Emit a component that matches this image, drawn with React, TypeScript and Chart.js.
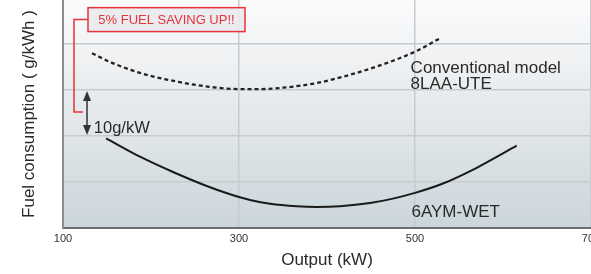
import React, { useEffect, useRef } from 'react';
import { Chart, registerables } from 'chart.js';

Chart.register(...registerables);

// Conventional model 8LAA-UTE (dashed)
const convOutput = [133, 157, 195, 233, 270, 301, 324, 350, 388, 426, 464, 502, 530];
const convFuel = [228.0, 225.8, 223.3, 221.7, 220.6, 220.2, 220.2, 220.5, 221.5, 223.3, 225.6, 228.5, 231.4];

// 6AYM-WET (solid)
const wetOutput = [149, 187.5, 225, 263.3, 289.8, 312.5, 335.2, 365.6, 388.3, 414.8, 448.9, 475, 500, 531.8, 570.1, 615.6];
const wetFuel = [209.5, 205.5, 202.17, 199.13, 197.33, 196.09, 195.26, 194.72, 194.59, 194.74, 195.43, 196.39, 197.63, 199.67, 203.09, 207.89];

const xTicks = [100, 300, 500, 700];
const yGridValues = [200, 210, 220, 230];

const FONT = '"Liberation Sans", Arial, Helvetica, sans-serif';
const RED = '#e8333b';
const TEXT = '#2a2a2a';

const backgroundPlugin = {
  id: 'bgGradient',
  beforeDraw(chart: any) {
    const { ctx, chartArea } = chart;
    if (!chartArea) return;
    const g = ctx.createLinearGradient(0, chartArea.top, 0, chartArea.bottom);
    g.addColorStop(0, '#fbfbfc');
    g.addColorStop(0.4, '#e9ecee');
    g.addColorStop(1, '#cbd6db');
    ctx.save();
    ctx.fillStyle = g;
    ctx.fillRect(chartArea.left, chartArea.top, chartArea.right - chartArea.left, chartArea.bottom - chartArea.top);
    ctx.restore();
  },
};

const annotationPlugin = {
  id: 'annotations',
  afterDatasetsDraw(chart: any) {
    const { ctx } = chart;
    const xs = chart.scales.x;
    const ys = chart.scales.y;
    const px = (v: number) => xs.getPixelForValue(v);
    const py = (v: number) => ys.getPixelForValue(v);
    ctx.save();

    // Red box
    const bx1 = px(128.4), bx2 = px(306.8), by1 = py(237.9), by2 = py(232.7);
    ctx.fillStyle = 'rgba(232,234,237,0.9)';
    ctx.fillRect(bx1, by1, bx2 - bx1, by2 - by1);
    ctx.strokeStyle = RED;
    ctx.lineWidth = 1.5;
    ctx.strokeRect(bx1, by1, bx2 - bx1, by2 - by1);
    ctx.fillStyle = RED;
    ctx.font = `13px ${FONT}`;
    ctx.textAlign = 'center';
    ctx.textBaseline = 'middle';
    ctx.fillText('5% FUEL SAVING UP!!', (bx1 + bx2) / 2, (by1 + by2) / 2 + 0.5);

    // Red connector
    const cy = (by1 + by2) / 2;
    ctx.beginPath();
    ctx.moveTo(bx1, cy);
    ctx.lineTo(px(112.5), cy);
    ctx.lineTo(px(112.5), py(215.2));
    ctx.lineTo(px(122.7), py(215.2));
    ctx.strokeStyle = RED;
    ctx.lineWidth = 1.5;
    ctx.stroke();

    // Double arrow (10 g/kWh)
    const ax = px(127.3);
    const aTop = py(220) + 1;
    const aBot = py(210) - 1;
    ctx.strokeStyle = '#333';
    ctx.fillStyle = '#333';
    ctx.lineWidth = 1.5;
    ctx.beginPath();
    ctx.moveTo(ax, aTop + 6);
    ctx.lineTo(ax, aBot - 6);
    ctx.stroke();
    ctx.beginPath();
    ctx.moveTo(ax, aTop);
    ctx.lineTo(ax - 4, aTop + 10);
    ctx.lineTo(ax + 4, aTop + 10);
    ctx.closePath();
    ctx.fill();
    ctx.beginPath();
    ctx.moveTo(ax, aBot);
    ctx.lineTo(ax - 4, aBot - 10);
    ctx.lineTo(ax + 4, aBot - 10);
    ctx.closePath();
    ctx.fill();

    // Texts
    ctx.fillStyle = TEXT;
    ctx.textAlign = 'left';
    ctx.textBaseline = 'alphabetic';
    ctx.font = `16.5px ${FONT}`;
    ctx.fillText('10g/kW', px(135), py(210.7));
    ctx.font = `17px ${FONT}`;
    ctx.fillText('Conventional model', px(495), py(223.8));
    ctx.fillText('8LAA-UTE', px(495), py(220.3));
    ctx.fillText('6AYM-WET', px(496), py(192.4));
    ctx.restore();
  },
};

export default function App() {
  const canvasRef = useRef<HTMLCanvasElement | null>(null);

  useEffect(() => {
    if (!canvasRef.current) return;
    const chart = new Chart(canvasRef.current, {
      type: 'line',
      data: {
        datasets: [
          {
            label: 'Conventional model 8LAA-UTE',
            data: convOutput.map((x, i) => ({ x, y: convFuel[i] })),
            borderColor: '#222',
            borderWidth: 2.3,
            borderDash: [4, 3],
            pointRadius: 0,
            cubicInterpolationMode: 'monotone',
            fill: false,
          },
          {
            label: '6AYM-WET',
            data: wetOutput.map((x, i) => ({ x, y: wetFuel[i] })),
            borderColor: '#1a1a1a',
            borderWidth: 2,
            pointRadius: 0,
            cubicInterpolationMode: 'monotone',
            fill: false,
          },
        ],
      },
      options: {
        animation: false,
        responsive: false,
        layout: { padding: { left: 0, top: 0, right: 20, bottom: 0 } },
        plugins: {
          legend: { display: false },
          tooltip: { enabled: false },
        },
        scales: {
          x: {
            type: 'linear',
            min: 100,
            max: 700,
            afterBuildTicks: (scale: any) => {
              scale.ticks = xTicks.map((v) => ({ value: v }));
            },
            afterFit: (scale: any) => {
              scale.height = 46;
            },
            grid: {
              drawTicks: false,
              lineWidth: 1.5,
              color: (ctx: any) => (ctx.tick && ctx.tick.value === 100 ? 'rgba(0,0,0,0)' : '#c6cbcf'),
            },
            border: { display: true, color: '#6e6e6e', width: 2 },
            ticks: {
              padding: 4,
              color: '#333',
              font: { size: 11, family: FONT },
              maxRotation: 0,
              callback: (v: any) => String(v),
            },
            title: {
              display: true,
              text: 'Output (kW)',
              color: TEXT,
              font: { size: 17, family: FONT },
              padding: { top: 0, bottom: 3 },
            },
          },
          y: {
            type: 'linear',
            min: 190,
            max: 190 + 228 / 4.6,
            afterBuildTicks: (scale: any) => {
              scale.ticks = yGridValues.map((v) => ({ value: v }));
            },
            afterFit: (scale: any) => {
              scale.width = 63;
            },
            grid: { drawTicks: false, lineWidth: 1.5, color: '#c6cbcf' },
            border: { display: true, color: '#8c8c8c', width: 2 },
            ticks: { display: false },
            title: {
              display: true,
              text: 'Fuel consumption ( g/kWh )',
              color: TEXT,
              font: { size: 17, family: FONT },
              padding: { top: 19, bottom: 0 },
            },
          },
        },
      },
      plugins: [backgroundPlugin, annotationPlugin],
    } as any);
    return () => chart.destroy();
  }, []);

  return (
    <div style={{ position: 'fixed', left: 0, top: 0, width: 591, height: 274, overflow: 'hidden', background: '#fff' }}>
      <canvas ref={canvasRef} width={611} height={274} style={{ display: 'block', width: 611, height: 274 }} />
    </div>
  );
}
